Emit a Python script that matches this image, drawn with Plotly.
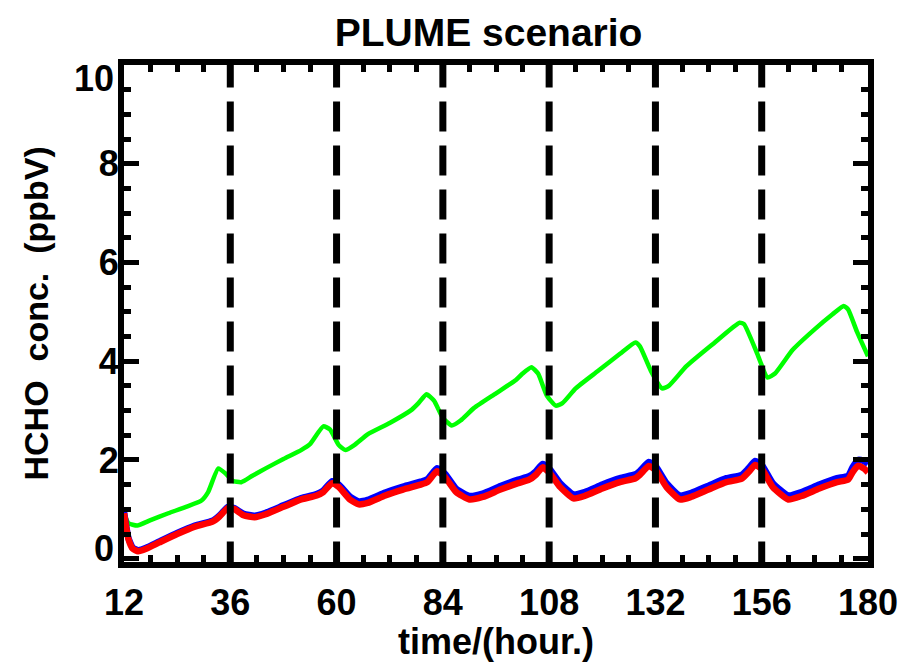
import plotly.graph_objects as go

# ---- data ----
green_t = [12, 13, 15, 18, 22, 26, 29.5, 31, 33.3, 35, 36.5, 38.5, 41, 44, 48, 52, 54, 57, 58.5, 60.5,
           62, 64, 67, 72, 77, 78.5, 80.3, 82, 84, 86, 88, 91, 96, 100.5, 102, 104, 105.5, 107.5,
           109.5, 111, 114, 119, 124, 127.5, 128.5, 131, 133.5, 135, 139, 145, 151, 152, 155,
           157.3, 159, 163, 168, 172, 174.5, 175.5, 177.5, 180]
green_v = [0.93, 0.72, 0.67, 0.78, 0.92, 1.05, 1.18, 1.35, 1.83, 1.72, 1.58, 1.55, 1.68, 1.83, 2.02,
           2.2, 2.32, 2.68, 2.62, 2.3, 2.2, 2.3, 2.52, 2.75, 3.02, 3.15, 3.33, 3.2, 2.85, 2.7, 2.8,
           3.05, 3.35, 3.62, 3.75, 3.88, 3.75, 3.3, 3.1, 3.15, 3.45, 3.8, 4.15, 4.38, 4.3, 3.8,
           3.45, 3.5, 3.9, 4.35, 4.78, 4.75, 4.15, 3.67, 3.75, 4.23, 4.65, 4.95, 5.12, 5.05, 4.6, 4.1]

rb_t = [12, 13, 14, 15.2, 17, 20, 24, 28, 32, 33.5, 35.5, 37, 39, 41.5, 44, 48, 52, 55.5, 57, 59,
        60.5, 63, 65, 67, 71, 75, 79, 80.5, 82.7, 84.5, 87, 90, 93, 97, 101, 103.5, 105, 106.5,
        108, 110.5, 113.5, 116, 120, 124, 127.5, 128.5, 130.5, 132, 134.5, 137.5, 140, 144, 148,
        151.5, 153, 154.5, 156, 158.5, 162, 165, 169, 173, 175.5, 176.5, 177.7, 179, 180]
red_v = [0.92, 0.4, 0.2, 0.15, 0.2, 0.33, 0.5, 0.65, 0.75, 0.85, 1.03, 1.0, 0.88, 0.84, 0.9, 1.05,
         1.2, 1.28, 1.35, 1.53, 1.45, 1.2, 1.1, 1.13, 1.28, 1.4, 1.5, 1.55, 1.77, 1.65, 1.35, 1.2,
         1.25, 1.4, 1.53, 1.6, 1.7, 1.85, 1.75, 1.45, 1.22, 1.27, 1.42, 1.55, 1.63, 1.7, 1.88, 1.8,
         1.45, 1.2, 1.25, 1.4, 1.55, 1.62, 1.75, 1.9, 1.82, 1.45, 1.2, 1.27, 1.42, 1.55, 1.6, 1.75,
         1.88, 1.83, 1.75]
blue_v = [0.95, 0.42, 0.22, 0.17, 0.22, 0.35, 0.52, 0.67, 0.77, 0.87, 1.05, 1.02, 0.91, 0.87, 0.93,
          1.08, 1.23, 1.31, 1.38, 1.57, 1.5, 1.26, 1.16, 1.19, 1.34, 1.46, 1.56, 1.61, 1.83, 1.72,
          1.42, 1.27, 1.32, 1.47, 1.6, 1.67, 1.77, 1.92, 1.83, 1.53, 1.3, 1.35, 1.5, 1.63, 1.71,
          1.78, 1.96, 1.88, 1.53, 1.28, 1.33, 1.48, 1.63, 1.7, 1.83, 1.98, 1.9, 1.53, 1.28, 1.35,
          1.5, 1.63, 1.68, 1.85, 2.0, 1.98, 1.92]

dash_times = [36, 60, 84, 108, 132, 156]
x_ticks = [12, 36, 60, 84, 108, 132, 156, 180]
y_ticks = [0, 2, 4, 6, 8, 10]

title_text = "PLUME scenario"
x_title = "time/(hour.)"
y_title = "HCHO\u00a0 conc.\u00a0 (ppbV)"

FONT = "Liberation Sans"
TICKFONT = dict(family=FONT, size=36, color="black", weight="bold")

fig = go.Figure()
fig.add_trace(go.Scatter(x=green_t, y=green_v, mode="lines", line=dict(color="#00FF00", width=4.5, shape="spline", smoothing=0.5), showlegend=False))
fig.add_trace(go.Scatter(x=rb_t, y=blue_v, mode="lines", line=dict(color="#0000FF", width=6.5, shape="spline", smoothing=0.5), showlegend=False))
fig.add_trace(go.Scatter(x=rb_t, y=red_v, mode="lines", line=dict(color="#FF0000", width=6.5, shape="spline", smoothing=0.5), showlegend=False))

for t in dash_times:
    fig.add_shape(type="line", xref="x", yref="y", x0=t, x1=t, y0=10.15, y1=-0.1,
                  line=dict(color="black", width=7, dash="30px,14px"), layer="above")

axis_common = dict(showgrid=False, zeroline=False, showline=True, linecolor="black", linewidth=6,
                   mirror="allticks", ticks="inside", ticklen=15, tickwidth=5, tickcolor="black",
                   tickfont=TICKFONT, automargin=False)

fig.update_xaxes(range=[12, 180], tickvals=x_ticks, ticktext=[str(v) for v in x_ticks],
                 ticklabelstandoff=4,
                 minor=dict(dtick=6, tick0=12, ticks="inside", ticklen=7, tickwidth=5, tickcolor="black"),
                 **axis_common)

# end labels of the y axis are drawn as annotations (shifted inward like the original)
y_ticktext = ["" if v in (y_ticks[0], y_ticks[-1]) else str(v) for v in y_ticks]
fig.update_yaxes(range=[-0.067, 10.0], tickvals=y_ticks, ticktext=y_ticktext,
                 ticklabelstandoff=-8,
                 minor=dict(dtick=0.5, tick0=0, ticks="inside", ticklen=7, tickwidth=5, tickcolor="black"),
                 **axis_common)

for v, shift in ((y_ticks[0], 10), (y_ticks[-1], -13)):
    fig.add_annotation(x=0, xref="paper", y=v, yref="y", text=str(v), showarrow=False,
                       xanchor="right", yanchor="middle", xshift=-8, yshift=shift, font=TICKFONT)

fig.add_annotation(x=0.5, xref="paper", y=0, yref="paper", text=x_title, showarrow=False,
                   xanchor="center", yanchor="middle", yshift=-79,
                   font=dict(family=FONT, size=36, color="black", weight="bold"))
fig.add_annotation(x=0, xref="paper", y=0.5, yref="paper", text=y_title, showarrow=False,
                   xanchor="center", yanchor="middle", xshift=-89, textangle=-90,
                   font=dict(family=FONT, size=34, color="black", weight="bold"))

fig.update_layout(
    width=899, height=667,
    margin=dict(l=124, r=31, t=65, b=105, autoexpand=False),
    paper_bgcolor="white", plot_bgcolor="white",
    title=dict(text=title_text, x=0.49, xref="paper", y=1 - 32 / 667, yref="container",
               xanchor="center", yanchor="middle", automargin=False,
               font=dict(family=FONT, size=39, color="black", weight="bold")),
)

fig.write_html("out.html")
